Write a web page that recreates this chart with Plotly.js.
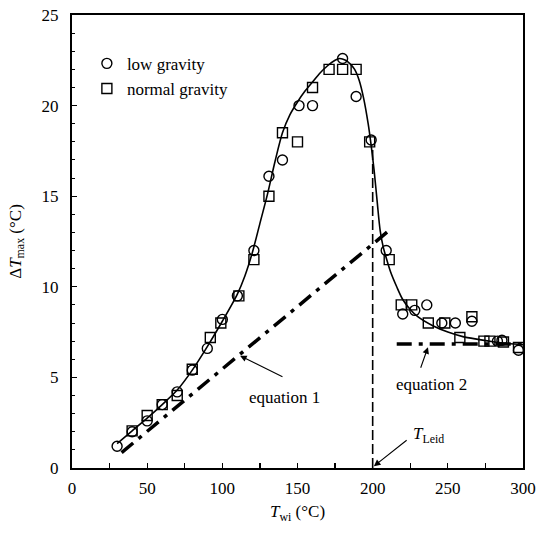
<!DOCTYPE html>
<html>
<head>
<meta charset="utf-8">
<script src="https://cdn.plot.ly/plotly-3.0.1.min.js"></script>
<style>html,body{margin:0;padding:0;background:#fff;}</style>
</head>
<body>
<div id="chart" style="width:538px;height:534px;"></div>
<script>
// Low gravity (circles)
const lowX = [30, 40, 50, 60, 70, 80, 90, 100, 110, 121, 131, 140, 151, 160, 180, 189, 199, 209, 220, 228, 236, 246, 255, 266, 283, 286, 297];
const lowY = [1.2, 2.0, 2.6, 3.5, 4.2, 5.4, 6.6, 8.2, 9.5, 12.0, 16.1, 17.0, 20.0, 20.0, 22.6, 20.5, 18.1, 12.0, 8.5, 8.7, 9.0, 8.0, 8.0, 8.1, 7.0, 7.05, 6.5];
// Normal gravity (squares)
const normX = [40, 50, 60, 70, 80, 92, 99, 111, 121, 131, 140, 150, 160, 171, 180, 189, 198, 211, 219, 226, 237, 248, 258, 266, 274, 278, 287, 297];
const normY = [2.05, 2.9, 3.5, 4.0, 5.45, 7.2, 8.0, 9.5, 11.5, 15.0, 18.5, 18.0, 21.0, 22.0, 22.0, 22.0, 18.0, 11.5, 9.0, 9.0, 8.0, 8.0, 7.2, 8.35, 7.0, 7.0, 6.95, 6.65];
// Fitted curve (solid)
const fitX = [30, 40, 50, 60, 70, 80, 90, 100, 110, 115, 120, 125, 130, 135, 140, 145, 150, 155, 160, 165, 170, 175, 178, 182, 185, 188, 191, 194, 197, 199, 201, 203, 205, 207, 209, 212, 216, 220, 225, 230, 240, 250, 260, 270, 280, 290, 300];
const fitY = [1.35, 2.05, 2.75, 3.5, 4.3, 5.4, 6.7, 8.1, 9.6, 10.6, 11.9, 13.5, 15.1, 16.9, 18.5, 19.5, 20.2, 20.8, 21.3, 21.8, 22.2, 22.5, 22.6, 22.5, 22.3, 22.0, 21.4, 20.4, 19.0, 17.8, 16.4, 14.7, 13.1, 12.2, 11.6, 10.8, 10.0, 9.3, 8.75, 8.35, 7.85, 7.5, 7.25, 7.1, 6.97, 6.87, 6.8];
// Equation 1 and equation 2 lines
const eq1X = [33, 213];
const eq1Y = [0.85, 13.25];
const eq2X = [216, 300];
const eq2Y = [6.85, 6.85];
// T_Leid vertical line
const leidX = [200, 200];
const leidY = [0, 17.8];
// Tick labels
const xTicks = [0, 50, 100, 150, 200, 250, 300];
const yTicks = [0, 5, 10, 15, 20, 25];
// Label texts
const labels = ['equation 1', 'equation 2', '<i>T</i><sub>Leid</sub>'];

const FONT = 'Liberation Serif, Times New Roman, serif';

const traces = [
  {x: fitX, y: fitY, mode: 'lines', line: {color: '#000', width: 1.6, shape: 'spline', smoothing: 0.8}, showlegend: false, hoverinfo: 'skip'},
  {x: eq1X, y: eq1Y, mode: 'lines', line: {color: '#000', width: 3.5, dash: '15px,7px,4px,7px'}, showlegend: false},
  {x: eq2X, y: eq2Y, mode: 'lines', line: {color: '#000', width: 3.5, dash: '15px,7px,4px,7px'}, showlegend: false},
  {x: leidX, y: leidY, mode: 'lines', line: {color: '#000', width: 1.6, dash: '10px,4px'}, showlegend: false},
  {x: lowX, y: lowY, mode: 'markers', name: 'low gravity',
   marker: {symbol: 'circle-open', size: 10, color: '#000', line: {width: 1.4, color: '#000'}}},
  {x: normX, y: normY, mode: 'markers', name: 'normal gravity',
   marker: {symbol: 'square-open', size: 10, color: '#000', line: {width: 1.4, color: '#000'}}}
];

const arrowCommon = {xref: 'x', yref: 'y', axref: 'x', ayref: 'y', showarrow: true, arrowhead: 2, arrowsize: 1.2, arrowwidth: 1.1, arrowcolor: '#000', text: '', standoff: 0, startstandoff: 0};

const layout = {
  width: 538, height: 534,
  margin: {l: 72, r: 15, t: 15, b: 66},
  paper_bgcolor: '#fff', plot_bgcolor: '#fff',
  font: {family: FONT, size: 17, color: '#000'},
  showlegend: true,
  legend: {x: 0.033, y: 0.932, xanchor: 'left', yanchor: 'top', bgcolor: 'rgba(0,0,0,0)', borderwidth: 0,
           font: {family: FONT, size: 17, color: '#000'}, itemwidth: 30, tracegroupgap: 0},
  xaxis: {
    range: [0, 300], tickvals: xTicks, ticktext: xTicks.map(String),
    ticks: 'inside', ticklen: 5, tickwidth: 1.2, tickcolor: '#000',
    minor: {dtick: 25, ticks: 'inside', ticklen: 5, tickwidth: 1.2, tickcolor: '#000', showgrid: false},
    showline: true, linewidth: 2, linecolor: '#000', mirror: true,
    showgrid: false, zeroline: false, ticklabelstandoff: 4,
    tickfont: {family: FONT, size: 17, color: '#000'},
    title: {text: '<i>T</i><sub>wi</sub> (°C)', font: {family: FONT, size: 17, color: '#000'}, standoff: 8}
  },
  yaxis: {
    range: [0, 25], tickvals: yTicks, ticktext: yTicks.map(String),
    ticks: 'inside', ticklen: 5, tickwidth: 1.2, tickcolor: '#000',
    minor: {dtick: 1, ticks: 'inside', ticklen: 3, tickwidth: 1, tickcolor: '#000', showgrid: false},
    showline: true, linewidth: 2, linecolor: '#000', mirror: true,
    showgrid: false, zeroline: false, ticklabelstandoff: 8,
    tickfont: {family: FONT, size: 17, color: '#000'},
    title: {text: 'Δ<i>T</i><sub>max</sub> (°C)', font: {family: FONT, size: 17, color: '#000'}, standoff: 16}
  },
  annotations: [
    {x: 141.5, y: 3.9, xref: 'x', yref: 'y', text: labels[0], showarrow: false, font: {family: FONT, size: 17, color: '#000'}},
    Object.assign({}, arrowCommon, {x: 111.8, y: 6.2, ax: 141, ay: 5.0}),
    {x: 239, y: 4.6, xref: 'x', yref: 'y', text: labels[1], showarrow: false, font: {family: FONT, size: 17, color: '#000'}},
    Object.assign({}, arrowCommon, {x: 236.8, y: 6.67, ax: 231.6, ay: 5.45}),
    {x: 237, y: 1.8, xref: 'x', yref: 'y', text: labels[2], showarrow: false, font: {family: FONT, size: 17, color: '#000'}},
    Object.assign({}, arrowCommon, {x: 200.8, y: 0.1, ax: 223.6, ay: 1.6})
  ]
};

Plotly.newPlot('chart', traces, layout, {displayModeBar: false, staticPlot: true});
</script>
</body>
</html>
